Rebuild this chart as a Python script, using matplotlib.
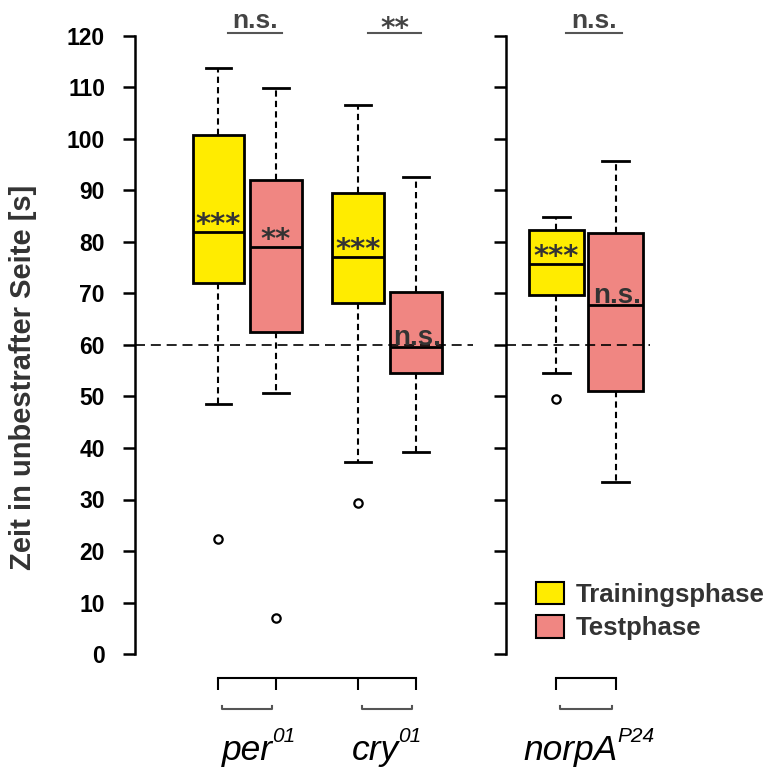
import matplotlib.pyplot as plt
from matplotlib.patches import Patch
from matplotlib import transforms

plt.rcParams['font.family'] = ['Liberation Sans', 'DejaVu Sans']

# per01 train, per01 test, cry01 train, cry01 test, norpA train, norpA test
whislo = [48.5, 50.7, 37.3, 39.2, 54.6, 33.4]
q1 = [72.0, 62.5, 68.2, 54.6, 69.7, 51.1]
med = [81.9, 79.0, 77.1, 59.6, 75.7, 67.8]
q3 = [100.8, 92.0, 89.5, 70.3, 82.3, 81.7]
whishi = [113.8, 109.9, 106.6, 92.6, 84.9, 95.7]
fliers = [[22.3], [7.0], [29.3], [], [49.5], []]
box_sig = ['***', '**', '***', 'n.s.', '***', 'n.s.']
pair_sig = ['n.s.', '**', 'n.s.']
genes = ['per', 'cry', 'norpA']
alleles = ['01', '01', 'P24']
phases = ['Trainingsphase', 'Testphase']
colors = ['#FFEC00', '#F08682']
chance = 60

stats = []
for i in range(6):
    stats.append(dict(med=med[i], q1=q1[i], q3=q3[i], whislo=whislo[i],
                      whishi=whishi[i], fliers=fliers[i]))

fig = plt.figure(figsize=(7.69, 7.70), dpi=100)
ax1 = fig.add_axes([135/769, 1-654/770, 338/769, 618/770])
ax2 = fig.add_axes([506/769, 1-654/770, 144/769, 618/770])

pos1 = [1, 2, 3.43, 4.43]
pos2 = [1, 2]
dark = '#333333'

def shifted(ax, dy):
    return transforms.offset_copy(ax.transData, fig=fig, x=0, y=dy, units='points')

def draw(ax, st, pos, width, sig):
    bp = ax.bxp(st, positions=pos, widths=width, patch_artist=True,
                capwidths=0.45,
                boxprops=dict(linewidth=2, edgecolor='black'),
                whiskerprops=dict(linewidth=1.5, linestyle=(0, (3, 2))),
                capprops=dict(linewidth=2),
                medianprops=dict(color='black', linewidth=2),
                flierprops=dict(marker='o', markerfacecolor='none',
                                markeredgecolor='black', markersize=6,
                                markeredgewidth=1.6))
    for k, b in enumerate(bp['boxes']):
        b.set_facecolor(colors[k % 2])
    for k, p in enumerate(pos):
        s = sig[k]
        if s == 'n.s.':
            ax.text(p + 0.03, st[k]['med'], s, ha='center', va='baseline',
                    fontsize=20, fontweight='bold', color=dark,
                    transform=shifted(ax, 1.5), zorder=5)
        else:
            ax.text(p, st[k]['med'], s, ha='center', va='baseline',
                    fontsize=21, fontweight='bold', color=dark, family='DejaVu Sans',
                    transform=shifted(ax, -0.5), zorder=5)
    ax.axhline(chance, color='black', linewidth=1.2, linestyle=(0, (6, 3.5)), zorder=4)
    ax.set_ylim(0, 120)
    ax.set_yticks(range(0, 121, 10))
    for side in ['top', 'right']:
        ax.spines[side].set_visible(False)
    ax.spines['left'].set_linewidth(1.8)
    ax.spines['bottom'].set_linewidth(1.5)
    ax.spines['bottom'].set_position(('outward', 17.3))
    ax.spines['bottom'].set_bounds(pos[0], pos[-1])
    ax.set_xticks(pos)
    ax.set_xticklabels([])
    ax.tick_params(axis='y', length=8.6, width=1.8, pad=13, labelsize=16.5)
    ax.tick_params(axis='x', length=8.6, width=1.5)
    for lab in ax.get_yticklabels():
        lab.set_fontweight('bold')

draw(ax1, stats[:4], pos1, 0.9, box_sig[:4])
draw(ax2, stats[4:], pos2, 0.92, box_sig[4:])
ax1.set_xlim(-0.452, 5.426)
ax2.set_xlim(0.158, 2.575)
ax2.set_yticklabels([])

# group brackets, labels and pairwise tests
groups = [(ax1, pos1[0], pos1[1], 1.06), (ax1, pos1[2], pos1[3], 3.326),
          (ax2, pos2[0], pos2[1], 0.458)]
renderer = fig.canvas.get_renderer()
for g, (ax, a, b, lx) in enumerate(groups):
    ax.plot([a + 0.06, a + 0.06, b - 0.07, b - 0.07], [-10.1, -10.7, -10.7, -10.1],
            color='#555555', linewidth=1.5, clip_on=False)
    t = ax.text(lx, -20.6, genes[g], ha='left', va='baseline', fontsize=25.5,
                style='italic')
    w = t.get_window_extent(renderer).width
    ax.text(lx, -20.6, alleles[g], ha='left', va='baseline', fontsize=15,
            style='italic',
            transform=transforms.offset_copy(ax.transData, fig=fig, x=w - 1,
                                             y=18, units='dots'))
    gc = (a + b) / 2
    ax.plot([gc - 0.33, gc + 0.6], [120.6, 120.6], color='#555555',
            linewidth=1.5, clip_on=False)
    if pair_sig[g] == 'n.s.':
        ax.text(gc + 0.14, 121.6, pair_sig[g], ha='center', va='baseline',
                fontsize=19, fontweight='bold', color='#444444')
    else:
        ax.text(gc + 0.14, 121.6, pair_sig[g], ha='center', va='baseline',
                fontsize=20, fontweight='bold', color='#444444', family='DejaVu Sans',
                transform=shifted(ax, -6.5))

fig.text(23/769, 1-377/770, 'Zeit in unbestrafter Seite [s]', rotation=90,
         ha='center', va='center', fontsize=21, fontweight='bold', color=dark)

handles = [Patch(facecolor=c, edgecolor='black', linewidth=1.5) for c in colors]
fig.legend(handles, phases, loc='upper left', bbox_to_anchor=(536/769, 1-582/770),
           frameon=False, handlelength=1.08, handleheight=0.96,
           handletextpad=0.47, labelspacing=0.33, borderpad=0, borderaxespad=0,
           prop=dict(weight='bold', size=18.5), labelcolor=dark)

fig.savefig('out.png', dpi=100)
